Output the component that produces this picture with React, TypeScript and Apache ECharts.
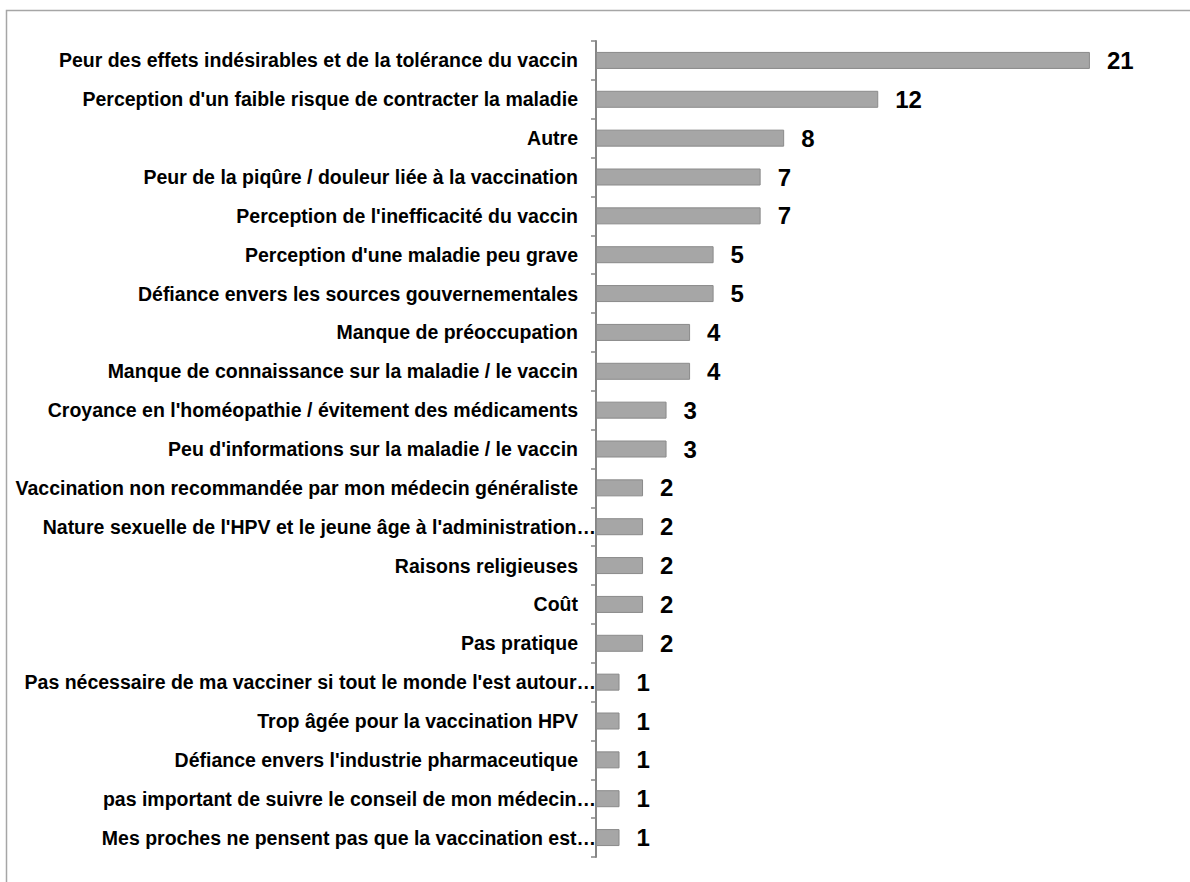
import React, { useEffect, useRef } from "react";
import * as echarts from "echarts";

const categories = [
  "Peur des effets indésirables et de la tolérance du vaccin",
  "Perception d'un faible risque de contracter la maladie",
  "Autre",
  "Peur de la piqûre / douleur liée à la vaccination",
  "Perception de l'inefficacité du vaccin",
  "Perception d'une maladie peu grave",
  "Défiance envers les sources gouvernementales",
  "Manque de préoccupation",
  "Manque de connaissance sur la maladie / le vaccin",
  "Croyance en l'homéopathie / évitement des médicaments",
  "Peu d'informations sur la maladie / le vaccin",
  "Vaccination non recommandée par mon médecin généraliste",
  "Nature sexuelle de l'HPV et le jeune âge à l'administration…",
  "Raisons religieuses",
  "Coût",
  "Pas pratique",
  "Pas nécessaire de ma vacciner si tout le monde l'est autour…",
  "Trop âgée pour la vaccination HPV",
  "Défiance envers l'industrie pharmaceutique",
  "pas important de suivre le conseil de mon médecin…",
  "Mes proches ne pensent pas que la vaccination est…",
];

const values = [21, 12, 8, 7, 7, 5, 5, 4, 4, 3, 3, 2, 2, 2, 2, 2, 1, 1, 1, 1, 1];

export default function App() {
  const ref = useRef<HTMLDivElement>(null);
  useEffect(() => {
    if (!ref.current) return;
    const chart = echarts.init(ref.current, null, { renderer: "svg" });
    const labelFont = {
      fontFamily: "Liberation Sans, Arial, sans-serif",
      fontWeight: "bold",
      fontSize: 19.5,
      color: "#000",
    };
    chart.setOption({
      animation: false,
      backgroundColor: "#ffffff",
      graphic: [
        {
          type: "rect",
          shape: { x: 6.5, y: 10.5, width: 1300, height: 1000 },
          style: { fill: "none", stroke: "#a6a6a6", lineWidth: 1.5 },
          silent: true,
        },
      ],
      grid: { left: 596, right: 6, top: 41, bottom: 25, containLabel: false },
      xAxis: {
        type: "value",
        min: 0,
        max: 25,
        show: false,
      },
      yAxis: {
        type: "category",
        inverse: true,
        data: categories,
        axisLine: { show: true, lineStyle: { color: "#868686", width: 2 } },
        axisTick: { show: true, length: 5, lineStyle: { color: "#868686", width: 1.5 } },
        axisLabel: {
          margin: 0,
          formatter: (v: string) => (v.endsWith("…") ? `{e|${v}}` : `{n|${v}}`),
          rich: {
            n: { ...labelFont, padding: [0, 18, 0, 0] },
            e: { ...labelFont, padding: [0, 0, 0, 0] },
          },
        },
        splitLine: { show: false },
      },
      series: [
        {
          type: "bar",
          data: values,
          barWidth: 17,
          itemStyle: { color: "#a6a6a6", borderColor: "#8a8a8a", borderWidth: 1 },
          label: {
            show: true,
            position: "right",
            distance: 17,
            fontFamily: "Liberation Sans, Arial, sans-serif",
            fontWeight: "bold",
            fontSize: 24,
            color: "#000",
          },
        },
      ],
    });
    return () => chart.dispose();
  }, []);
  return (
    <div
      ref={ref}
      style={{ position: "fixed", left: 0, top: 0, width: 1190, height: 882, background: "#fff" }}
    />
  );
}
